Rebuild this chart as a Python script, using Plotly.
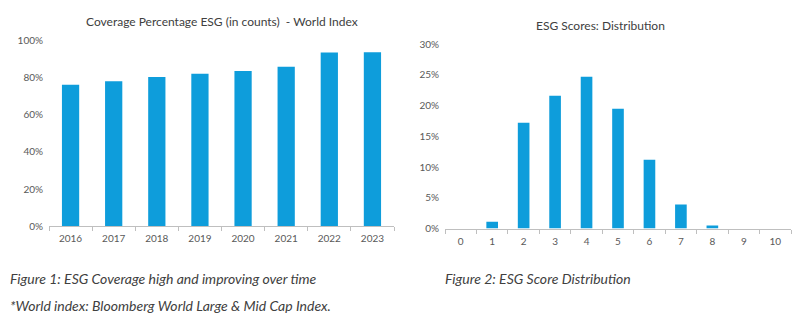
import plotly.graph_objects as go

# Coverage of ESG scores (share of index constituents, by count)
years = ["2016", "2017", "2018", "2019", "2020", "2021", "2022", "2023"]
coverage = [0.761, 0.780, 0.803, 0.820, 0.835, 0.858, 0.935, 0.937]

# Distribution of ESG scores across the index
score_bins = ["0", "1", "2", "3", "4", "5", "6", "7", "8", "9", "10"]
score_share = [0.0, 0.011, 0.172, 0.216, 0.247, 0.195, 0.112, 0.039, 0.005, 0.0, 0.0]

left_title = "Coverage Percentage ESG (in counts)  - World Index"
right_title = "ESG Scores: Distribution"
caption_left = "Figure 1: ESG Coverage high and improving over time"
caption_right = "Figure 2: ESG Score Distribution"
footnote = "*World index: Bloomberg World Large & Mid Cap Index."

BAR = "#0E9DDB"
TXT = "#595959"
AXIS = "#BFBFBF"
FONT = "Lato"

fig = go.Figure()
fig.add_trace(go.Bar(x=years, y=coverage, xaxis="x", yaxis="y",
                     marker=dict(color=BAR, line=dict(width=0)),
                     width=0.4, hoverinfo="x+y"))
fig.add_trace(go.Bar(x=score_bins, y=score_share, xaxis="x2", yaxis="y2",
                     marker=dict(color=BAR, line=dict(width=0)),
                     width=0.37, hoverinfo="x+y"))

xcommon = dict(type="category", tickson="boundaries", ticks="outside", ticklen=4,
               tickcolor=AXIS, showline=True, linecolor=AXIS, linewidth=1,
               showgrid=False, zeroline=False, ticklabelstandoff=3,
               tickfont=dict(family=FONT, size=10, color=TXT))
ycommon = dict(showgrid=False, zeroline=False, showline=False, ticks="",
               tickformat=".0%", ticklabelstandoff=5,
               tickfont=dict(family=FONT, size=10, color=TXT))

fig.update_layout(
    width=800, height=328,
    margin=dict(l=0, r=0, t=0, b=0),
    paper_bgcolor="white", plot_bgcolor="white",
    showlegend=False,
    xaxis=dict(domain=[49 / 800, 394 / 800], anchor="y", **xcommon),
    yaxis=dict(domain=[(328 - 228.3) / 328, (328 - 34.8) / 328], anchor="x",
               range=[0, 1.0], dtick=0.2, **ycommon),
    xaxis2=dict(domain=[445 / 800, 791 / 800], anchor="y2", **xcommon),
    yaxis2=dict(domain=[(328 - 230.7) / 328, (328 - 38.7) / 328], anchor="x2",
                range=[0, 0.30], dtick=0.05, **ycommon),
)

def text_at(x, y, txt, size=12, italic=False, color="#404040", xanchor="left"):
    fig.add_annotation(x=x / 800, y=1 - y / 328, xref="paper", yref="paper",
                       text=txt, showarrow=False, xanchor=xanchor, yanchor="middle",
                       font=dict(family=FONT, size=size, color=color,
                                 style="italic" if italic else "normal"))

text_at(222, 15, left_title, xanchor="center")
text_at(600, 19, right_title, xanchor="center")
text_at(8, 283, caption_left, size=14, italic=True)
text_at(443, 283, caption_right, size=14, italic=True)
text_at(8, 311, footnote, size=14, italic=True)

fig.write_html("out.html")
